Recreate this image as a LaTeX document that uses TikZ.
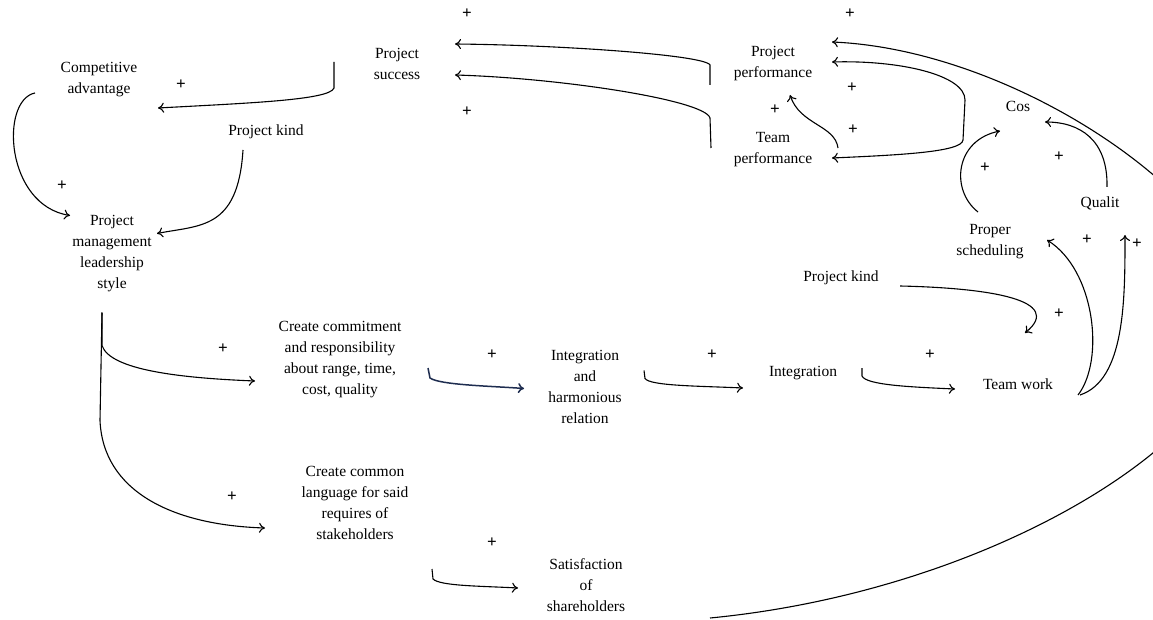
\documentclass[tikz,border=0pt]{standalone}
\usepackage{fontspec}
\setmainfont{Liberation Serif}
\usetikzlibrary{arrows,arrows.meta}
\definecolor{navyline}{RGB}{30,45,80}

\begin{document}
\begin{tikzpicture}[x=1pt,y=-1pt,line width=1.1pt,>={To[length=6pt,width=10pt]}]
\tikzstyle{every node} = [inner sep = 0pt, align = center, font = \fontsize{15.5}{21}\selectfont];
\tikzstyle{sign} = [font = \fontsize{17}{17}\selectfont\bfseries];
\useasboundingbox (0,0) rectangle (1153,620);
\node (CA) at (99,80) {Competitive\\advantage};
\node (PS) at (397,64) {Project\\success};
\node (PP) at (773,64) {Project\\performance};
\node (TP) at (773,150) {Team\\performance};
\node (Cos) at (1018,106) {Cos};
\node (Q) at (1100,203) {Qualit};
\node (PSch) at (990,242) {Proper\\scheduling};
\node (PK1) at (266,132) {Project kind};
\node (PK2) at (841,278) {Project kind};
\node (PMLS) at (112,253.5) {Project\\management\\leadership\\style};
\node (CC) at (340,360) {Create commitment\\and responsibility\\about range, time,\\cost, quality};
\node (IH) at (585,386.5) {Integration\\and\\harmonious\\relation};
\node (I) at (803,373) {Integration};
\node (TW) at (1018,384) {Team work};
\node (CL) at (355,503) {Create common\\language for said\\requires of\\stakeholders};
\node (SS) at (586,585) {Satisfaction\\of\\shareholders};
% signs
\node[sign] (p1) at (467,14) {+};
\node[sign] (p2) at (850,14) {+};
\node[sign] (p3) at (181,85) {+};
\node[sign] (p4) at (467,112) {+};
\node[sign] (p5) at (775,110) {+};
\node[sign] (p6) at (852,88) {+};
\node[sign] (p7) at (853,130) {+};
\node[sign] (p8) at (62,186) {+};
\node[sign] (p9) at (1059,157) {+};
\node[sign] (p10) at (985,168) {+};
\node[sign] (p11) at (1087,240) {+};
\node[sign] (p12) at (1137,244) {+};
\node[sign] (p13) at (1059,314) {+};
\node[sign] (p14) at (223,349) {+};
\node[sign] (p15) at (492,355) {+};
\node[sign] (p16) at (712,355) {+};
\node[sign] (p17) at (930,355) {+};
\node[sign] (p18) at (232,497) {+};
\node[sign] (p19) at (492,543) {+};
% links
\draw[->] ([shift={(-63,-2)}]PS.center) -- ++(0,26) .. controls (330,100) and (250,103) .. ([shift={(59,28)}]CA.center);
\draw[->] ([shift={(-64,13)}]CA.center) .. controls (0,100) and (5,205) .. ([shift={(-42,-38)}]PMLS.center);
\draw[->] ([shift={(-23,18)}]PK1.center) .. controls (238,230) and (200,225) .. ([shift={(45,-20)}]PMLS.center);
\draw[->] ([shift={(-63,21)}]PP.center) -- ++(0,-20) .. controls (705,55) and (560,45) .. ([shift={(58,-20)}]PS.center);
\draw[->] ([shift={(-62,-2)}]TP.center) -- ++(-1,-30) .. controls (705,100) and (560,78) .. ([shift={(58,11)}]PS.center);
\draw[->] ([shift={(65,-2)}]TP.center) .. controls (835,125) and (800,125) .. ([shift={(17,31)}]PP.center);
\draw[<->] ([shift={(59,-2)}]PP.center) .. controls (900,60) and (965,75) .. (965,100) -- (963,140) .. controls (962,152) and (900,155) .. ([shift={(59,8)}]TP.center);
\draw[->] ([shift={(-12,-30)}]PSch.center) .. controls (950,190) and (955,140) .. ([shift={(-18,25)}]Cos.center);
\draw[->] ([shift={(7,-16)}]Q.center) .. controls (1108,140) and (1080,122) .. ([shift={(27,16)}]Cos.center);
\draw[->] ([shift={(59,8)}]PK2.center) .. controls (990,288) and (1065,300) .. ([shift={(7,-51)}]TW.center);
\draw[->] ([shift={(60,11)}]TW.center) .. controls (1105,360) and (1095,270) .. ([shift={(57,-2)}]PSch.center);
\draw[->] ([shift={(62,11)}]TW.center) .. controls (1125,380) and (1125,300) .. ([shift={(25,32)}]Q.center);
\draw[->] ([shift={(-10,59)}]PMLS.center) -- ++(0,33) .. controls (110,370) and (180,378) .. ([shift={(-85,21)}]CC.center);
\draw[->] ([shift={(-10,59)}]PMLS.center) -- ++(-2,108) .. controls (103,490) and (170,525) .. ([shift={(-90,25)}]CL.center);
\draw[->, navyline, line width=1.5pt] ([shift={(88,8)}]CC.center) -- ++(2,10) .. controls (440,385) and (490,386) .. ([shift={(-61,2)}]IH.center);
\draw[->] ([shift={(59,-16)}]IH.center) -- ++(1,8) .. controls (650,386) and (700,386) .. ([shift={(-60,15)}]I.center);
\draw[->] ([shift={(59,-5)}]I.center) -- ++(0,8) .. controls (866,385) and (910,387) .. ([shift={(-63,5)}]TW.center);
\draw[->] ([shift={(77,66)}]CL.center) -- ++(1,10) .. controls (440,586) and (480,586) .. ([shift={(-68,3)}]SS.center);
\draw[->] ([shift={(124,33)}]SS.center) .. controls (1000,590) and (1250,430) .. (1240,310) .. controls (1240,205) and (1020,50) .. ([shift={(59,-22)}]PP.center);
\end{tikzpicture}
\end{document}
